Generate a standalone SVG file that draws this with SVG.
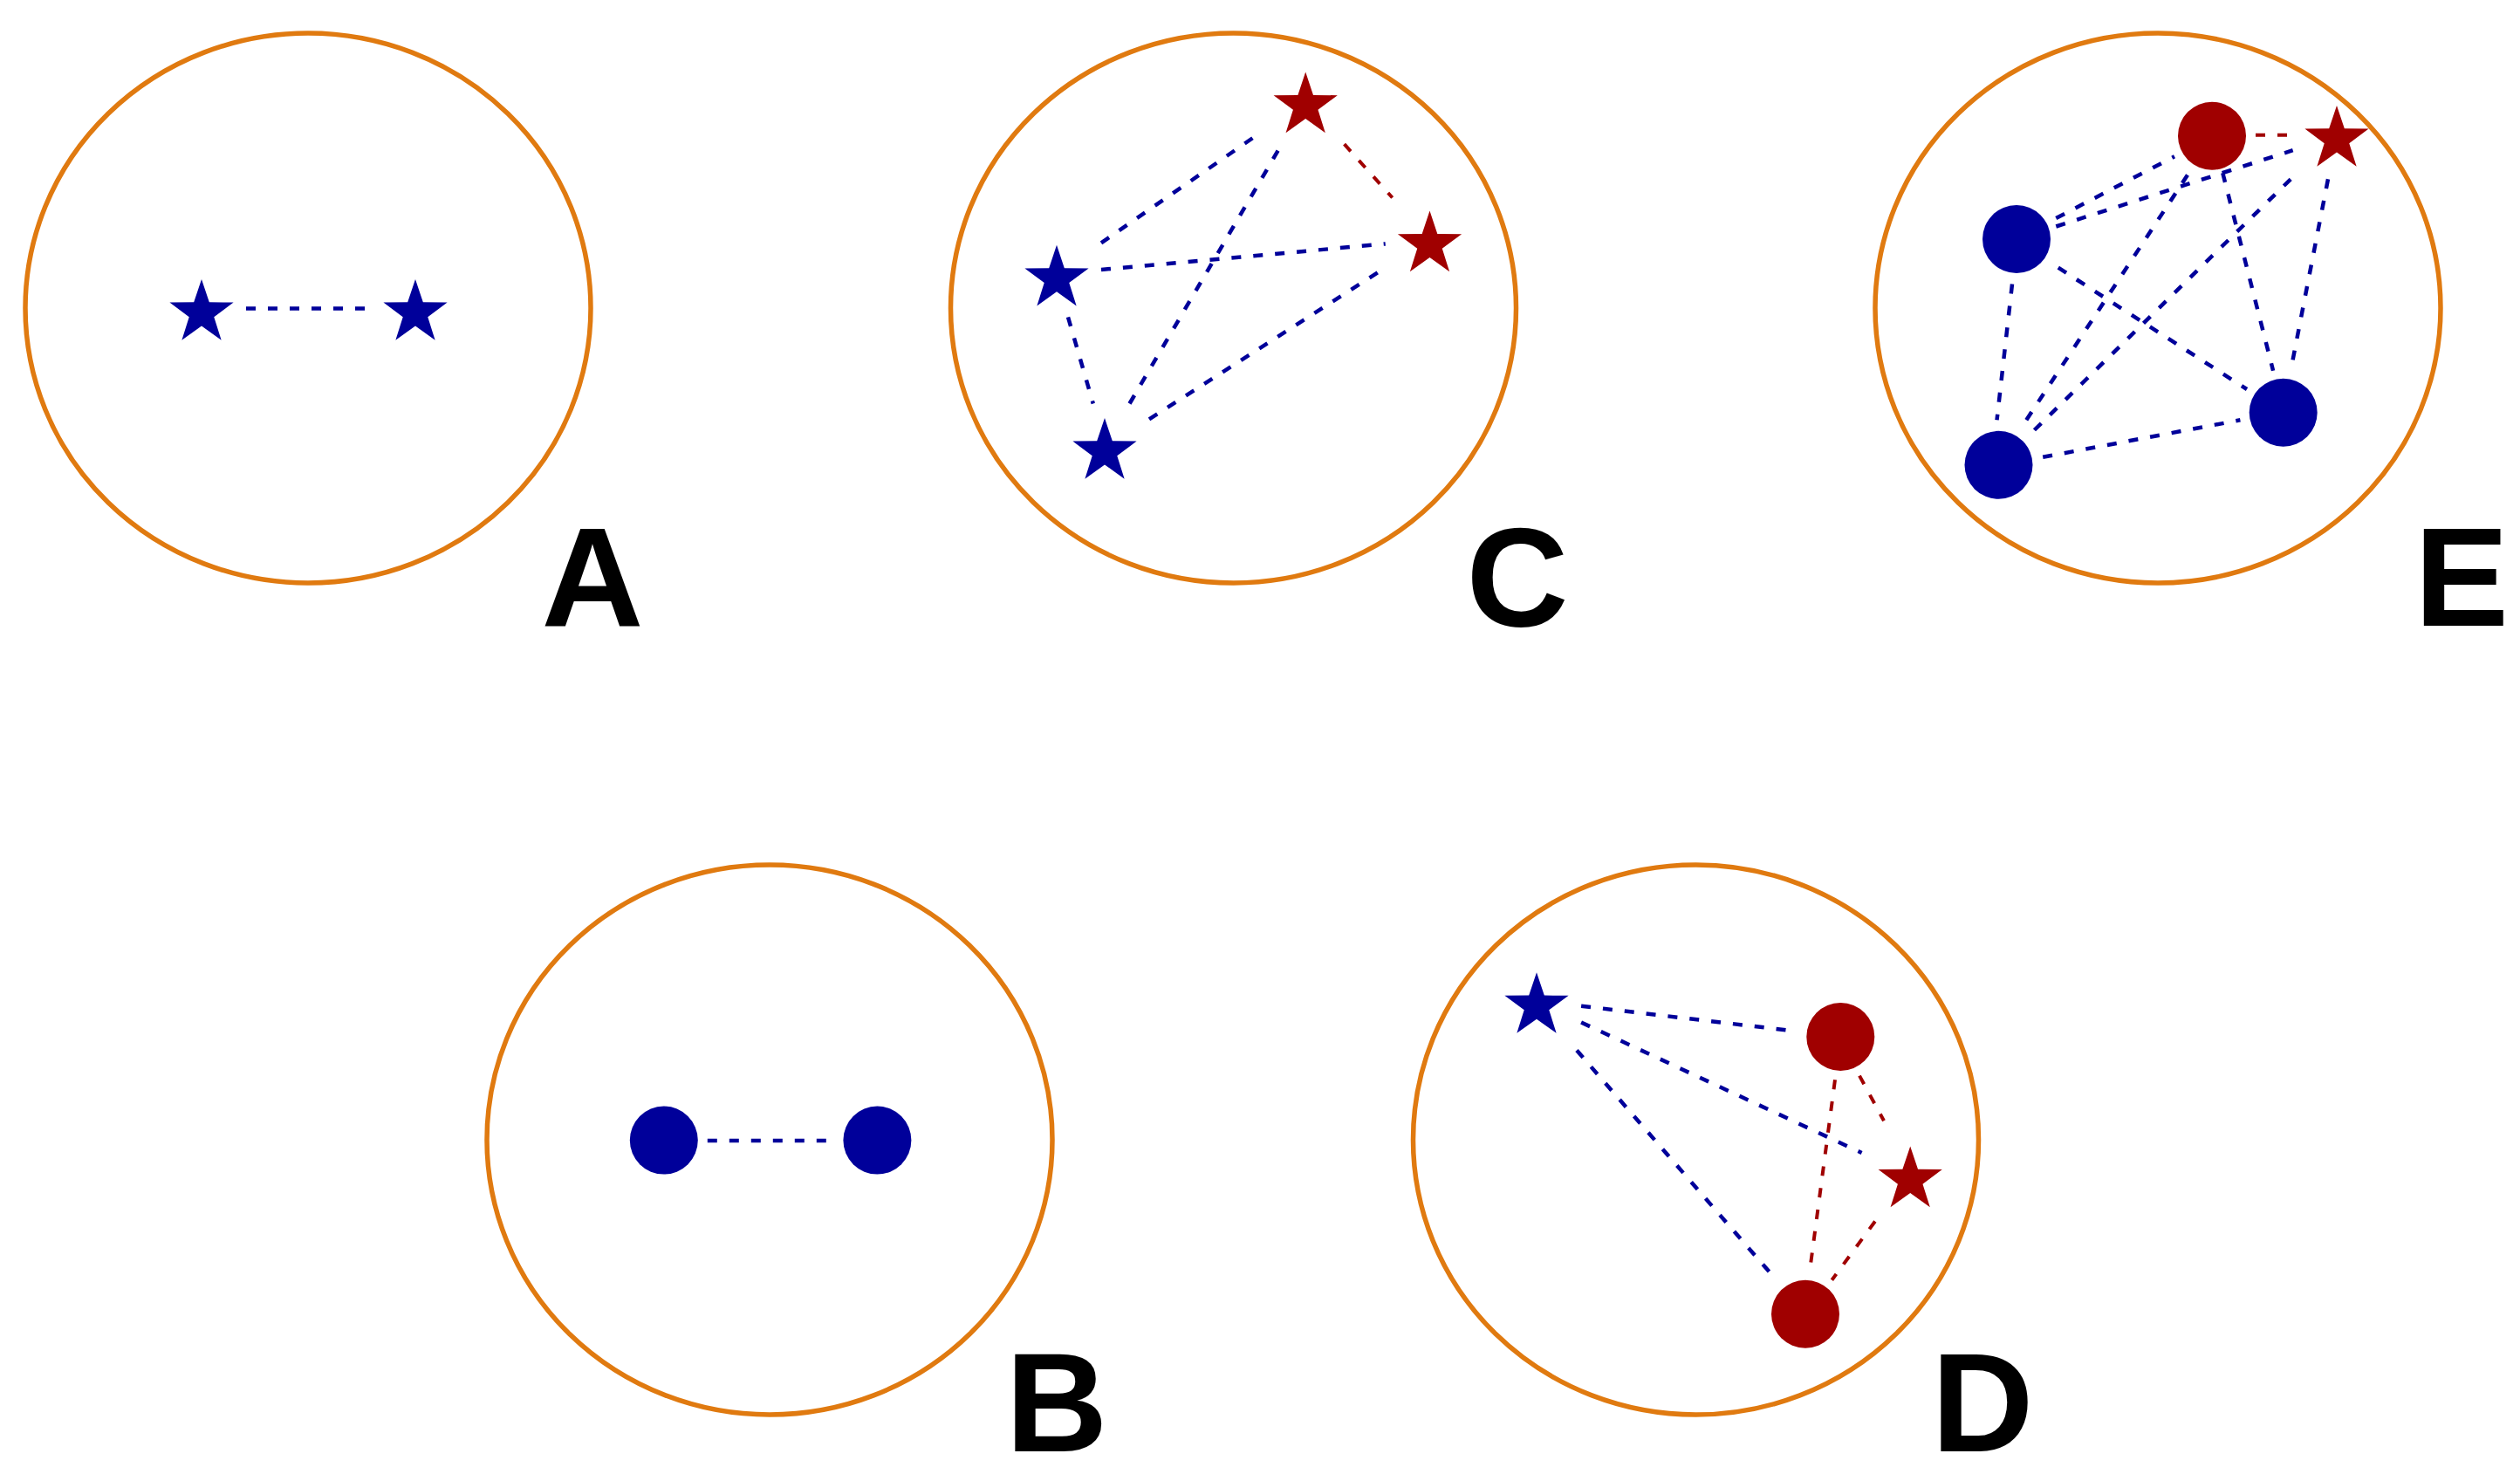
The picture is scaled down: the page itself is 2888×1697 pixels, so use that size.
<svg xmlns="http://www.w3.org/2000/svg" xmlns:xlink="http://www.w3.org/1999/xlink" width="2888" height="1697" viewBox="0 0 2888 1697">
<style>
.ring{fill:none;stroke:#e07a10;stroke-width:5.5}
.b{fill:#00009a}
.r{fill:#a00000}
.eb{stroke:#00009a;stroke-width:4.5;stroke-dasharray:11 14;fill:none}
.er{stroke:#a00000;stroke-width:4;stroke-dasharray:11 14;fill:none}
.lbl{font-family:"Liberation Sans",Arial,sans-serif;font-weight:bold;font-size:162px;fill:#000;text-anchor:middle}
</style>
<defs>
<polygon id="star" points="0,-38.5 8.82,-12.14 36.62,-11.9 14.27,4.64 22.63,31.15 0,15 -22.63,31.15 -14.27,4.64 -36.62,-11.9 -8.82,-12.14"/>
</defs>
<rect width="2888" height="1697" fill="#fff"/>

<g id="panel-A">
<ellipse class="ring" cx="353" cy="353" rx="324" ry="315"/>
<text class="lbl" x="679" y="717">A</text>
</g>
<g id="panel-C">
<ellipse class="ring" cx="1413.5" cy="353" rx="324" ry="315"/>
<text class="lbl" x="1739" y="717">C</text>
</g>
<g id="panel-E">
<ellipse class="ring" cx="2473" cy="353" rx="324" ry="315"/>
<text class="lbl" x="2821" y="717">E</text>
</g>
<g id="panel-B">
<ellipse class="ring" cx="882" cy="1306" rx="324" ry="315"/>
<text class="lbl" x="1211" y="1663">B</text>
</g>
<g id="panel-D">
<ellipse class="ring" cx="1943.5" cy="1306" rx="324" ry="315"/>
<text class="lbl" x="2272" y="1663">D</text>
</g>

<g id="connectors">
<line class="eb" x1="282" y1="353.5" x2="419" y2="353.5"/>
<line class="eb" x1="1262" y1="278.4" x2="1444.5" y2="152"/>
<line class="eb" x1="1294.5" y1="462.5" x2="1469" y2="165.2"/>
<line class="eb" x1="1262" y1="309" x2="1587.7" y2="279.4"/>
<line class="eb" x1="1317" y1="480.4" x2="1587.7" y2="306.7"/>
<line class="eb" x1="1224" y1="363.4" x2="1252.8" y2="462.5"/>
<line class="er" x1="1540.6" y1="165.2" x2="1595.7" y2="226.5"/>
<line class="er" x1="2585" y1="154.8" x2="2627" y2="154.8"/>
<line class="eb" x1="2356.3" y1="250" x2="2492" y2="179.3"/>
<line class="eb" x1="2356.3" y1="259.5" x2="2627.7" y2="172.2"/>
<line class="eb" x1="2507" y1="200.6" x2="2316" y2="490.8"/>
<line class="eb" x1="2625.2" y1="205.3" x2="2326.2" y2="497.9"/>
<line class="eb" x1="2547.3" y1="198.2" x2="2605.1" y2="424.7"/>
<line class="eb" x1="2668" y1="205.3" x2="2625.2" y2="424.7"/>
<line class="eb" x1="2358.8" y1="306.7" x2="2575" y2="446"/>
<line class="eb" x1="2306" y1="325.6" x2="2288.5" y2="481.3"/>
<line class="eb" x1="2341.2" y1="523.8" x2="2567.4" y2="481.3"/>
<line class="eb" x1="810.8" y1="1306.9" x2="947.5" y2="1306.9"/>
<line class="eb" x1="1812.1" y1="1152.7" x2="2059.6" y2="1181.8"/>
<line class="eb" x1="1812.1" y1="1171.5" x2="2133.6" y2="1321"/>
<line class="eb" x1="1807" y1="1203.5" x2="2036.6" y2="1467.6"/>
<line class="er" x1="2131" y1="1232.6" x2="2159" y2="1284.3"/>
<line class="er" x1="2103" y1="1237.3" x2="2073.9" y2="1457.3"/>
<line class="er" x1="2148.9" y1="1399.5" x2="2099.4" y2="1466.7"/>
</g>

<g id="A-star-1"><use href="#star" class="b" x="231" y="358.5"/></g>
<g id="A-star-2"><use href="#star" class="b" x="476" y="358.5"/></g>

<g id="C-red-star-top"><use href="#star" class="r" x="1496.2" y="121.1"/></g>
<g id="C-red-star-right"><use href="#star" class="r" x="1638.5" y="280.1"/></g>
<g id="C-blue-star-left"><use href="#star" class="b" x="1211" y="319.3"/></g>
<g id="C-blue-star-bottom"><use href="#star" class="b" x="1266" y="517.5"/></g>

<g id="E-red-circle"><circle class="r" cx="2535" cy="155.7" r="39"/></g>
<g id="E-red-star"><use href="#star" class="r" x="2678" y="159.5"/></g>
<g id="E-blue-circle-tl"><circle class="b" cx="2311" cy="274" r="39"/></g>
<g id="E-blue-circle-bl"><circle class="b" cx="2290.5" cy="532.8" r="39"/></g>
<g id="E-blue-circle-r"><circle class="b" cx="2616.7" cy="472.7" r="39"/></g>

<g id="B-circle-1"><circle class="b" cx="760.8" cy="1306.6" r="39"/></g>
<g id="B-circle-2"><circle class="b" cx="1005.4" cy="1306.6" r="39"/></g>

<g id="D-blue-star"><use href="#star" class="b" x="1761" y="1152.7"/></g>
<g id="D-red-circle-top"><circle class="r" cx="2109.3" cy="1188" r="39"/></g>
<g id="D-red-star"><use href="#star" class="r" x="2189.2" y="1352"/></g>
<g id="D-red-circle-bottom"><circle class="r" cx="2069" cy="1505.7" r="39"/></g>
</svg>
